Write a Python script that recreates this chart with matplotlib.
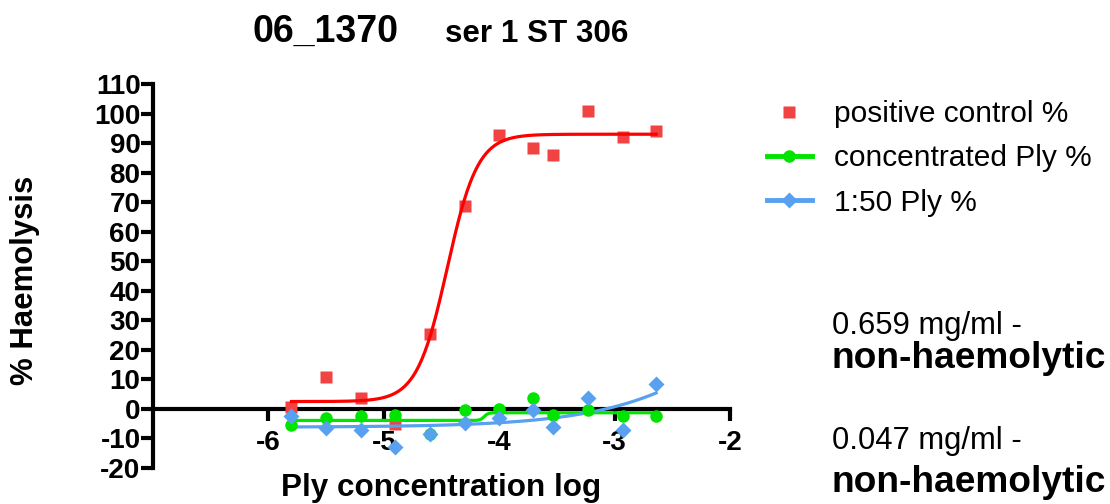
import numpy as np
import matplotlib
matplotlib.use("Agg")
import matplotlib.pyplot as plt
from matplotlib.lines import Line2D

plt.rcParams['font.family'] = ['Liberation Sans', 'DejaVu Sans']
plt.rcParams['axes.unicode_minus'] = False

# log concentrations (x) and % haemolysis for each series
log_conc = [-5.80, -5.50, -5.20, -4.90, -4.60, -4.30, -4.00, -3.71, -3.53, -3.23, -2.93, -2.64]
positive_control = [0.5, 10.9, 3.7, -5.0, 25.4, 68.8, 92.9, 88.5, 86.1, 101.0, 92.2, 94.2]
concentrated_ply = [-5.4, -3.1, -2.4, -2.0, -8.5, -0.3, 0.0, 3.7, -2.0, -0.3, -2.4, -2.4]
ply_1_50 = [-2.4, -6.4, -7.1, -12.9, -8.5, -4.8, -3.1, -0.3, -6.1, 3.7, -7.1, 8.5]

# fitted 4-parameter logistic curves: bottom, top, logEC50, hill slope
fit_positive = [2.5, 93.0, -4.45, 3.3]
fit_concentrated = [-3.9, -1.3, -4.13, 25.0]
fit_1_50 = [-6.2, 100.0, -1.3, 0.68]

series_names = ['positive control %', 'concentrated Ply %', '1:50 Ply %']
title_main = '06_1370'
title_sub = 'ser 1 ST 306'
notes = ['0.659 mg/ml -', 'non-haemolytic', '0.047 mg/ml -', 'non-haemolytic']

red_pt = '#F24343'
red_line = '#FF0000'
green = '#00E400'
blue = '#58A0F0'


def four_pl(x, p):
    bottom, top, ec50, hill = p
    return bottom + (top - bottom) / (1 + 10 ** ((ec50 - x) * hill))


fig = plt.figure(figsize=(11.1, 5.04), dpi=100)
ax = fig.add_axes([153 / 1110, 1 - 468 / 504, (730 - 153) / 1110, (468 - 84) / 504])

xs = np.linspace(min(log_conc), max(log_conc), 400)
ax.plot(xs, four_pl(xs, fit_positive), color=red_line, lw=2.3, zorder=3)
ax.plot(xs, four_pl(xs, fit_concentrated), color=green, lw=2.3, zorder=3)
ax.plot(xs, four_pl(xs, fit_1_50), color=blue, lw=2.3, zorder=3)

ax.plot(log_conc, positive_control, 's', color=red_pt, ms=8.5, mec='none', zorder=2)
ax.plot(log_conc, concentrated_ply, 'o', color=green, ms=9, mec='none', zorder=4)
ax.plot(log_conc, ply_1_50, 'D', color=blue, ms=8, mec='none', zorder=5)

ax.set_xlim(-7, -2)
ax.set_ylim(-20, 110)
ax.set_xticks([-6, -5, -4, -3, -2])
ax.set_yticks(np.arange(-20, 111, 10))

for s in ['top', 'right']:
    ax.spines[s].set_visible(False)
ax.spines['bottom'].set_position(('data', 0))
ax.spines['left'].set_linewidth(3)
ax.spines['bottom'].set_linewidth(3)
ax.spines['left'].set_zorder(1)
ax.spines['bottom'].set_zorder(1)
ax.tick_params(axis='both', direction='out', width=3, length=8.5)
ax.tick_params(axis='y', pad=0.5)
ax.tick_params(axis='x', pad=7)
for lab in ax.get_xticklabels() + ax.get_yticklabels():
    lab.set_fontweight('bold')
    lab.set_fontsize(20)

fig.text(25 / 1110, 1 - 280 / 504, '% Haemolysis', fontsize=22.4, fontweight='bold',
         rotation=90, ha='center', va='center')
fig.text(441 / 1110, 1 - 488 / 504, 'Ply concentration log', fontsize=22.6, fontweight='bold',
         ha='center', va='center')

fig.text(252 / 1110, 1 - 42 / 504, title_main, fontsize=27, fontweight='bold', ha='left', va='baseline')
fig.text(445 / 1110, 1 - 42 / 504, title_sub, fontsize=22.6, fontweight='bold', ha='left', va='baseline')

handles = [
    Line2D([], [], ls='none', marker='s', color=red_pt, ms=8.5, mec='none'),
    Line2D([], [], color=green, lw=3.5, marker='o', ms=9, mec='none'),
    Line2D([], [], color=blue, lw=3.5, marker='D', ms=8, mec='none'),
]
fig.legend(handles, series_names, loc='upper left', bbox_to_anchor=(767 / 1110, 1 - 100 / 504),
           frameon=False, fontsize=21.5, handlelength=1.5, handletextpad=0.75, labelspacing=0.55,
           borderaxespad=0, borderpad=0)

fig.text(832 / 1110, 1 - 326 / 504, notes[0], fontsize=22.3, ha='left', va='center')
fig.text(832 / 1110, 1 - 358 / 504, notes[1], fontsize=26.7, fontweight='bold', ha='left', va='center')
fig.text(832 / 1110, 1 - 441 / 504, notes[2], fontsize=22.3, ha='left', va='center')
fig.text(832 / 1110, 1 - 482 / 504, notes[3], fontsize=26.7, fontweight='bold', ha='left', va='center')

fig.savefig('out.png', dpi=100)
